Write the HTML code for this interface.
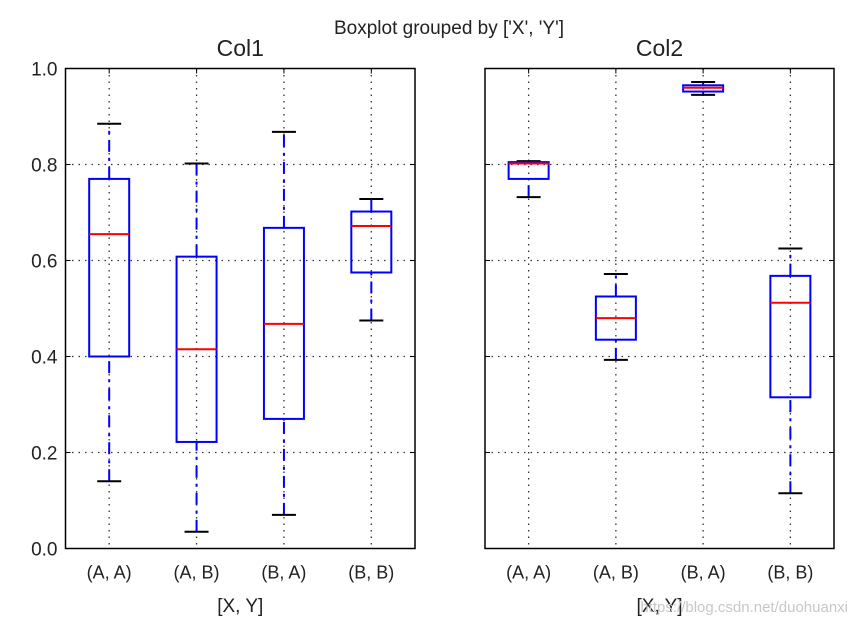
<!DOCTYPE html>
<html><head><meta charset="utf-8"><style>
body{margin:0;background:#fff;}
svg text{font-family:"Liberation Sans","DejaVu Sans",sans-serif;fill:#222;}
</style></head><body>
<svg id="chart" width="858" height="628" xmlns="http://www.w3.org/2000/svg">
<text x="449" y="34" text-anchor="middle" font-size="19">Boxplot grouped by ['X', 'Y']</text>
<g id="plots"></g>
<text x="848" y="612" text-anchor="end" font-size="15" style="fill:#c8c8c8">https://blog.csdn.net/duohuanxi</text>
</svg>
<script>
const categories = ['(A, A)','(A, B)','(B, A)','(B, B)'];
const yTicks = [0.0,0.2,0.4,0.6,0.8,1.0];
const col1Stats = [[0.14,0.40,0.655,0.77,0.885],[0.035,0.222,0.415,0.608,0.802],[0.07,0.27,0.468,0.668,0.868],[0.475,0.575,0.672,0.702,0.728]];
const col2Stats = [[0.732,0.77,0.802,0.805,0.807],[0.393,0.435,0.48,0.525,0.572],[0.945,0.952,0.96,0.965,0.972],[0.115,0.315,0.512,0.568,0.625]];
const titles = ['Col1','Col2'];
const NS='http://www.w3.org/2000/svg';
const g=document.getElementById('plots');
function mk(tag,attrs,parent){const e=document.createElementNS(NS,tag);for(const k in attrs)e.setAttribute(k,attrs[k]);(parent||g).appendChild(e);return e;}
const yTop=68.5,yBot=548.5;
const panels=[{x0:65.5,x1:415,stats:col1Stats,yl:true},{x0:485,x1:834,stats:col2Stats,yl:false}];
panels.forEach((p,pi)=>{
  const y=v=>yBot-(v-0)/(1-0)*(yBot-yTop);
  const n=categories.length, step=(p.x1-p.x0)/n;
  const x=i=>p.x0+step*(i+0.5);
  const pg=mk('g',{});
  
  
  yTicks.forEach(t=>{
    if(t>0&&t<1){const l=mk('line',{x1:p.x0,x2:p.x1,y1:y(t),y2:y(t),stroke:'#333','stroke-width':1.3,'stroke-dasharray':'1.5 5'},pg);
    
    }
    mk('line',{x1:p.x0,x2:p.x0+5,y1:y(t),y2:y(t),stroke:'#000','stroke-width':1},pg);
    mk('line',{x1:p.x1-5,x2:p.x1,y1:y(t),y2:y(t),stroke:'#000','stroke-width':1},pg);
    if(p.yl){const tx=mk('text',{x:p.x0-8,y:y(t)+7,'text-anchor':'end','font-size':19},pg);tx.textContent=t.toFixed(1);
    
    }
  });
  categories.forEach((c,i)=>{
    const l=mk('line',{x1:x(i),x2:x(i),y1:yTop,y2:yBot,stroke:'#333','stroke-width':1.3,'stroke-dasharray':'1.5 5'},pg);
    
    
    mk('line',{x1:x(i),x2:x(i),y1:yTop,y2:yTop+5,stroke:'#000'},pg);
    const tx=mk('text',{x:x(i),y:yBot+30,'text-anchor':'middle','font-size':18},pg);tx.textContent=c;
    
    
    const s=p.stats[i], hw=20, cw=12;
    const bg=mk('g',{},pg);
    
    
    mk('line',{x1:x(i),x2:x(i),y1:y(s[0]),y2:y(s[1]),stroke:'#00f','stroke-width':2,'stroke-dasharray':'12 6 3 6'},bg);
    mk('line',{x1:x(i),x2:x(i),y1:y(s[3]),y2:y(s[4]),stroke:'#00f','stroke-width':2,'stroke-dasharray':'12 6 3 6'},bg);
    mk('line',{x1:x(i)-cw,x2:x(i)+cw,y1:y(s[0]),y2:y(s[0]),stroke:'#000','stroke-width':2},bg);
    mk('line',{x1:x(i)-cw,x2:x(i)+cw,y1:y(s[4]),y2:y(s[4]),stroke:'#000','stroke-width':2},bg);
    mk('rect',{x:x(i)-hw,y:y(s[3]),width:2*hw,height:y(s[1])-y(s[3]),fill:'none',stroke:'#00f','stroke-width':2},bg);
    mk('line',{x1:x(i)-hw,x2:x(i)+hw,y1:y(s[2]),y2:y(s[2]),stroke:'#f00','stroke-width':2},bg);
  });
  const fr=mk('rect',{x:p.x0,y:yTop,width:p.x1-p.x0,height:yBot-yTop,fill:'none',stroke:'#000','stroke-width':1.5},pg);
  
  
  const tt=mk('text',{x:(p.x0+p.x1)/2,y:56,'text-anchor':'middle','font-size':23},pg);tt.textContent=titles[pi];
  
  
  const xl=mk('text',{x:(p.x0+p.x1)/2,y:612,'text-anchor':'middle','font-size':19},pg);xl.textContent='[X, Y]';
  
  
});
</script>
</body></html>
